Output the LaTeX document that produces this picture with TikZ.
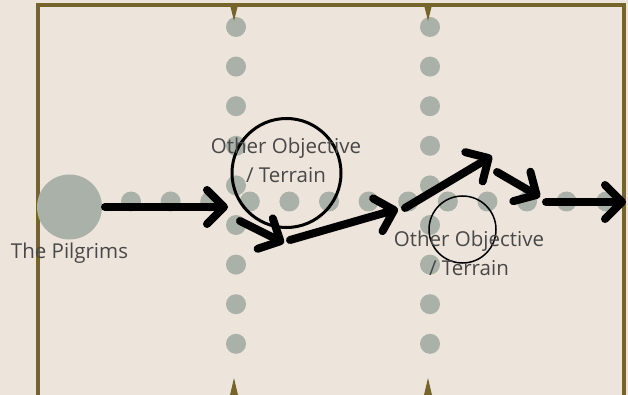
\documentclass[tikz,border=0pt]{standalone}
\usepackage{fontspec}
\setmainfont{Open Sans}
\usepackage{xcolor}
\usepackage{tikz}
\usetikzlibrary{arrows.meta, positioning}

\definecolor{parchment}{HTML}{EDE4DB}
\definecolor{framegold}{HTML}{76652A}
\definecolor{dotgrey}{HTML}{A9B1A8}
\definecolor{labelgrey}{HTML}{484848}

\tikzset{
  dot/.style={circle, fill=dotgrey, inner sep=0pt, minimum size=20pt},
  objring/.style={circle, draw=black, inner sep=0pt},
  lbl/.style={text=labelgrey, align=center, font=\fontsize{20.5}{29}\selectfont},
  move/.style={line width=8pt, line cap=round, line join=round,
    -{Straight Barb[length=17pt, width=34pt, round]}},
}

\begin{document}
\begin{tikzpicture}[x=1pt, y=-1pt]
\useasboundingbox (0,0) rectangle (628,395);
% parchment background
\fill[parchment] (0,0) rectangle (628,395);
% table edge
\draw[framegold, line width=3.5pt] (38,400) -- (38,5) -- (624,5) -- (624,400);
% deployment lines (dotted columns)
\foreach \cx in {236,430}
  \foreach \k in {0,...,8}
    \fill[dotgrey] (\cx, 27+39.6*\k) circle (10);
% centre line (dotted row)
\foreach \k in {0,...,12}
  \fill[dotgrey] (131+39.6*\k, 201.5) circle (10);
% edge markers
\foreach \cx in {234,428} {
  \fill[framegold] (\cx-4,5) -- (\cx+4,5) -- (\cx,21) -- cycle;
  \fill[framegold] (\cx-4,395) -- (\cx+4,395) -- (\cx,378) -- cycle;
}
% the pilgrims
\node[dot, minimum size=65pt] (pilgrims) at (69.5,207) {};
\node[lbl] (pilgrimslbl) at (69.5,253.5) {The Pilgrims};
% objectives
\node[objring, line width=3pt, minimum size=109pt] (obja) at (286.5,173) {};
\node[lbl] (objalbl) at (286,160.5) {Other Objective\\/ Terrain};
\node[objring, line width=1.5pt, minimum size=67pt] (objb) at (462.5,229.5) {};
\node[lbl] (objblbl) at (469,253) {Other Objective\\/ Terrain};
% route waypoints
\coordinate (a0) at (105,207);  \coordinate (a1) at (228,207);
\coordinate (b0) at (240,221);  \coordinate (b1) at (284,243);
\coordinate (c0) at (290,240);  \coordinate (c1) at (398,209);
\coordinate (d0) at (405,208);  \coordinate (d1) at (492,156);
\coordinate (e0) at (497,172);  \coordinate (e1) at (540,197);
\coordinate (f0) at (546,202);  \coordinate (f1) at (626,202);
% route
\draw[move] (a0) -- (a1);
\draw[move] (b0) -- (b1);
\draw[move] (c0) -- (c1);
\draw[move] (d0) -- (d1);
\draw[move] (e0) -- (e1);
\draw[move] (f0) -- (f1);
\end{tikzpicture}
\end{document}
